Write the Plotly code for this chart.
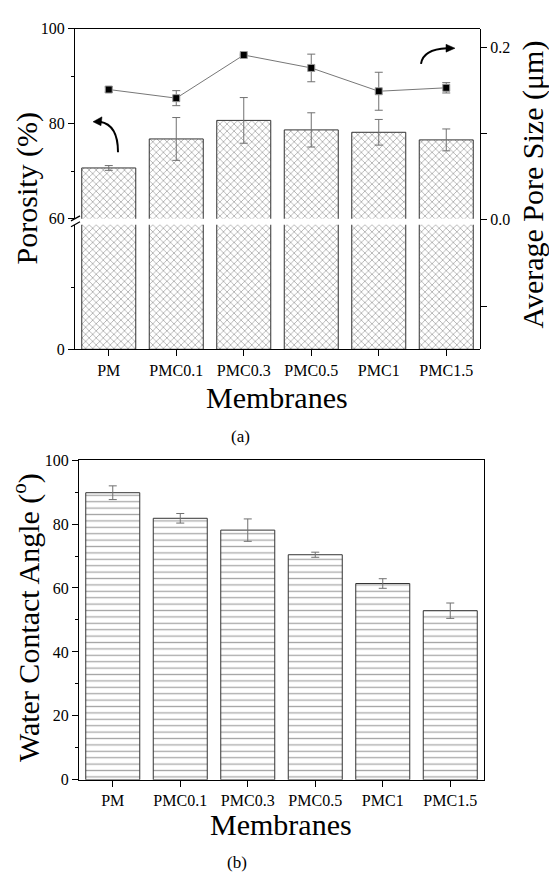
import plotly.graph_objects as go

# ---------------- data ----------------
membranes = ["PM", "PMC0.1", "PMC0.3", "PMC0.5", "PMC1", "PMC1.5"]
porosity = [70.7, 76.8, 80.7, 78.7, 78.2, 76.6]
porosity_err = [0.5, 4.5, 4.8, 3.6, 2.7, 2.3]
pore_size = [0.151, 0.141, 0.191, 0.176, 0.149, 0.153]
pore_size_err = [0.003, 0.0087, 0.001, 0.016, 0.022, 0.006]
contact_angle = [89.8, 81.8, 78.1, 70.4, 61.4, 52.9]
contact_angle_err = [2.15, 1.5, 3.5, 0.8, 1.5, 2.4]

W, H = 549, 881
FONT = "Liberation Serif, Times New Roman, serif"


def px(x, y):
    return x / W, 1 - y / H


fig = go.Figure()

bar_line = dict(color="#333333", width=1)
err_style = dict(type="data", visible=True, color="#707070", thickness=1, width=4)
cross = dict(shape="x", fgcolor="#4a4a4a", bgcolor="white", size=5, solidity=0.28)

# upper part of broken axis
fig.add_trace(go.Bar(
    x=membranes, y=porosity, xaxis="x", yaxis="y", width=0.8,
    marker=dict(color="white", line=bar_line, pattern=cross),
    error_y=dict(array=porosity_err, **err_style), showlegend=False))
# lower part of broken axis
fig.add_trace(go.Bar(
    x=membranes, y=porosity, xaxis="x2", yaxis="y2", width=0.8,
    marker=dict(color="white", line=bar_line, pattern=cross),
    showlegend=False))
# pore size on right axis
fig.add_trace(go.Scatter(
    x=membranes, y=pore_size, xaxis="x3", yaxis="y3", mode="lines+markers",
    line=dict(color="#777777", width=1),
    marker=dict(symbol="square", size=7, color="black", line=dict(color="#999999", width=1)),
    error_y=dict(array=pore_size_err, **err_style), showlegend=False))
# contact angle
fig.add_trace(go.Bar(
    x=membranes, y=contact_angle, xaxis="x4", yaxis="y4", width=0.8,
    marker=dict(color="white", line=bar_line,
                pattern=dict(shape="-", fgcolor="#505050", bgcolor="white", size=6.4, solidity=0.2)),
    error_y=dict(array=contact_angle_err, **err_style), showlegend=False))

tickfont = dict(family=FONT, size=16, color="black")
axline = dict(showline=True, linecolor="black", linewidth=1.3, showgrid=False, zeroline=False)

top_x = [75 / W, 480 / W]
y_up = [1 - 215 / H, 1 - 21 / H]
y_lo = [1 - 348 / H, 1 - 221 / H]
bot_x = [79 / W, 484 / W]
bot_y = [1 - 787 / H, 1 - 461 / H]

fig.update_layout(
    width=W, height=H, margin=dict(l=0, r=0, t=0, b=0),
    paper_bgcolor="white", plot_bgcolor="rgba(0,0,0,0)",
    font=dict(family=FONT, color="black"),
    bargap=0.2,
    xaxis=dict(domain=top_x, anchor="y", side="top", range=[-0.5, 5.5], ticks="",
               showticklabels=False, **axline),
    yaxis=dict(domain=y_up, anchor="x", range=[60, 100], tickvals=[60, 80, 100],
               ticks="outside", ticklen=6, tickwidth=1, tickcolor="black", tickfont=tickfont,
               minor=dict(tickvals=[70, 90], ticks="outside", ticklen=3, tickcolor="black"), **axline),
    xaxis2=dict(domain=top_x, anchor="y2", range=[-0.5, 5.5], ticks="outside", ticklen=6,
                tickwidth=1, tickcolor="black", tickfont=tickfont, **axline),
    yaxis2=dict(domain=y_lo, anchor="x2", range=[0, 60], tickvals=[0],
                ticks="outside", ticklen=6, tickwidth=1, tickcolor="black", tickfont=tickfont,
                minor=dict(tickvals=[30], ticks="outside", ticklen=3, tickcolor="black"), **axline),
    xaxis3=dict(domain=top_x, anchor="y3", range=[-0.5, 5.5], visible=False),
    yaxis3=dict(domain=[y_lo[0], y_up[1]], anchor="x3", side="right", range=[-0.15, 0.2216],
                tickvals=[0.0, 0.2], ticktext=["0.0", "0.2"],
                ticks="outside", ticklen=6, tickwidth=1, tickcolor="black", tickfont=tickfont,
                minor=dict(tickvals=[-0.1, 0.1], ticks="outside", ticklen=6, tickcolor="black"), **axline),
    xaxis4=dict(domain=bot_x, anchor="y4", range=[-0.5, 5.5], ticks="outside", ticklen=6,
                tickwidth=1, tickcolor="black", tickfont=tickfont, mirror=True, **axline),
    yaxis4=dict(domain=bot_y, anchor="x4", range=[0, 100], dtick=20,
                ticks="outside", ticklen=6, tickwidth=1, tickcolor="black", tickfont=tickfont,
                minor=dict(dtick=10, ticks="outside", ticklen=3, tickcolor="black"),
                mirror=True, **axline),
)


def ann(text, x, y, size, angle=0):
    ax, ay = px(x, y)
    fig.add_annotation(text=text, x=ax, y=ay, xref="paper", yref="paper", showarrow=False,
                       textangle=angle, font=dict(family=FONT, size=size, color="black"),
                       xanchor="center", yanchor="middle")


ann("Porosity (%)", 27, 184, 30, -90)
ann("Average Pore Size (μm)", 533, 180, 30, -90)
ann("Membranes", 277, 397, 30)
ann("(a)", 240, 437, 17)
ann("Water Contact Angle (<sup>o</sup>)", 27, 622, 30, -90)
ann("Membranes", 281, 833, 30)
ann("(b)", 237, 871, 17)


def path_from(points_cmd):
    out = []
    for cmd, pts in points_cmd:
        coords = " ".join(f"{px(x, y)[0]:.5f},{px(x, y)[1]:.5f}" for x, y in pts)
        out.append(f"{cmd} {coords}")
    return " ".join(out)


# curved arrows
fig.add_shape(type="path", xref="paper", yref="paper",
              path=path_from([("M", [(118, 147)]), ("Q", [(118, 119), (100, 116)])]),
              line=dict(color="black", width=2))
fig.add_shape(type="path", xref="paper", yref="paper", fillcolor="black",
              path=path_from([("M", [(93, 116)]), ("L", [(102, 111)]), ("L", [(101, 120)])]) + " Z",
              line=dict(color="black", width=0.5))
fig.add_shape(type="path", xref="paper", yref="paper",
              path=path_from([("M", [(421, 57)]), ("Q", [(423, 42), (447, 41)])]),
              line=dict(color="black", width=2))
fig.add_shape(type="path", xref="paper", yref="paper", fillcolor="black",
              path=path_from([("M", [(455, 41)]), ("L", [(446, 37)]), ("L", [(446, 45)])]) + " Z",
              line=dict(color="black", width=0.5))

# axis break marks
for dy in (0, 6):
    x0, y0 = px(71, 217 + dy)
    x1, y1 = px(80, 212 + dy)
    fig.add_shape(type="line", xref="paper", yref="paper", x0=x0, y0=y0, x1=x1, y1=y1,
                  line=dict(color="black", width=1.3))

fig.write_html("out.html")
